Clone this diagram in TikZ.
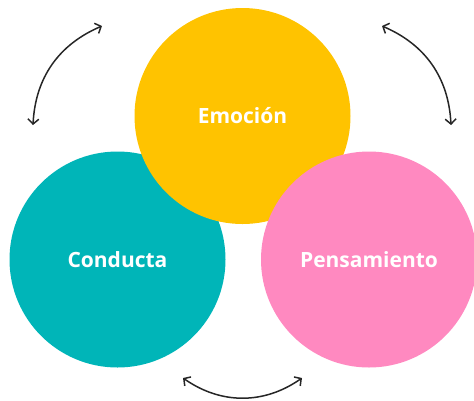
\documentclass[tikz,border=0pt]{standalone}
\usepackage{fontspec}
\setmainfont{Open Sans}
\usetikzlibrary{arrows.meta}
\definecolor{cyel}{HTML}{FFC300}
\definecolor{cteal}{HTML}{00B5B8}
\definecolor{cpink}{HTML}{FF89C0}
\begin{document}
\begin{tikzpicture}[x=1pt,y=-1pt,
  blob/.style={circle,minimum size=216pt,inner sep=0pt,text=white,font=\fontsize{21}{24}\selectfont\bfseries},
  cyc/.style={line width=1.5pt,black!85,{Straight Barb[length=5pt,width=11pt]}-{Straight Barb[length=5pt,width=11pt]}}]
\useasboundingbox (0,0) rectangle (474,400);
\begin{scope}
\clip (0,0) rectangle (474,400);
\node[blob,fill=cteal] (con) at (117.5,259.5) {Conducta};
\node[blob,fill=cyel] (emo) at (242.5,116) {Emoción};
\node[blob,fill=cpink] (pen) at (369,259.5) {Pensamiento};
\end{scope}
\coordinate (l1) at (33,125);
\coordinate (l2) at (102,26);
\coordinate (r1) at (382,26);
\coordinate (r2) at (451,125);
\coordinate (b1) at (183,378);
\coordinate (b2) at (302,378);
\draw[cyc] (l1) to[bend left=32] (l2);
\draw[cyc] (r1) to[bend left=32] (r2);
\draw[cyc] (b1) to[bend right=35] (b2);
\end{tikzpicture}
\end{document}
